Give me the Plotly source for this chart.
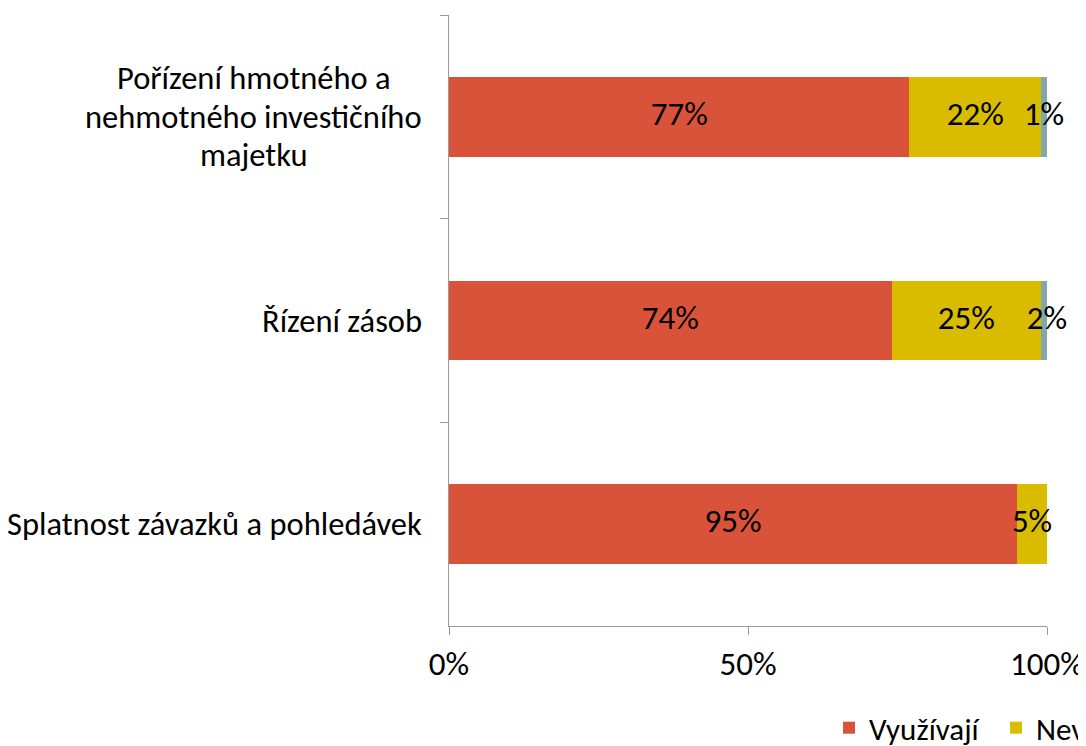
import plotly.graph_objects as go

categories = ["Pořízení hmotného a<br>nehmotného investičního<br>majetku",
              "Řízení zásob",
              "Splatnost závazků a pohledávek"]
series_names = ["Využívají", "Nevyužívají", "Neuvedeno"]
vyuzivaji = [77, 74, 95]
nevyuzivaji = [22, 25, 5]
neuvedeno = [1, 2, 0]
x_ticks = [0, 50, 100]

colors = ["#D9533A", "#D9BC00", "#82A8AC"]
FONT = "Carlito, Calibri, Lato, sans-serif"
FS = 33
CAT_FS = 32.5

fig = go.Figure()
all_series = [vyuzivaji, nevyuzivaji, neuvedeno]
for name, vals, col in zip(series_names, all_series, colors):
    fig.add_trace(go.Bar(
        y=categories, x=vals, name=name, orientation="h",
        marker=dict(color=col, line=dict(width=0)), width=0.39,
        hoverinfo="x+y+name",
    ))

# value labels centred on each segment
lx, ly, lt = [], [], []
for i, cat in enumerate(categories):
    cum = 0
    for vals in all_series:
        v = vals[i]
        if v > 0:
            lx.append(cum + v / 2)
            ly.append(cat)
            lt.append(f"{v}%")
        cum += v
fig.add_trace(go.Scatter(
    x=lx, y=ly, text=lt, mode="text", showlegend=False,
    textfont=dict(family=FONT, size=FS, color="#000000"),
    hoverinfo="skip", cliponaxis=False,
))

# category labels (centred lines, right-aligned block)
LINE_H = 38.5
for cat in categories:
    lines = cat.split("<br>")
    n = len(lines)
    for k, line in enumerate(lines):
        fig.add_annotation(
            x=-0.0485, xref="paper", y=cat, yref="y", text=line,
            showarrow=False, xanchor="center" if n > 1 else "right",
            yanchor="middle", align="center",
            yshift=((n - 1) / 2 - k) * LINE_H,
            xshift=-(166 if n > 1 else -4),
            font=dict(family=FONT, size=CAT_FS, color="#000000"),
        )

fig.update_layout(
    width=1078, height=738, barmode="stack",
    plot_bgcolor="white", paper_bgcolor="white",
    margin=dict(l=441, r=39, t=7, b=120, autoexpand=False),
    font=dict(family=FONT, size=FS, color="#000000"),
    showlegend=True,
    legend=dict(orientation="h", x=0.6355, xanchor="left", y=-0.167, yanchor="middle",
                font=dict(family=FONT, size=31), traceorder="normal",
                entrywidth=122, bgcolor="rgba(0,0,0,0)"),
)
fig.update_xaxes(
    range=[0, 100], tickvals=x_ticks, ticktext=[f"{t}%" for t in x_ticks],
    showgrid=False, zeroline=False, showline=True, linecolor="#9A9A9A", linewidth=1,
    ticks="outside", ticklen=8, tickcolor="#9A9A9A",
    tickfont=dict(family=FONT, size=FS, color="#000000"),
)
fig.update_yaxes(
    autorange="reversed", showticklabels=False, showgrid=False, zeroline=False,
    showline=True, linecolor="#9A9A9A", linewidth=1,
    ticks="outside", ticklen=8, tickcolor="#9A9A9A", tickson="boundaries",
)

fig.write_html("out.html")
